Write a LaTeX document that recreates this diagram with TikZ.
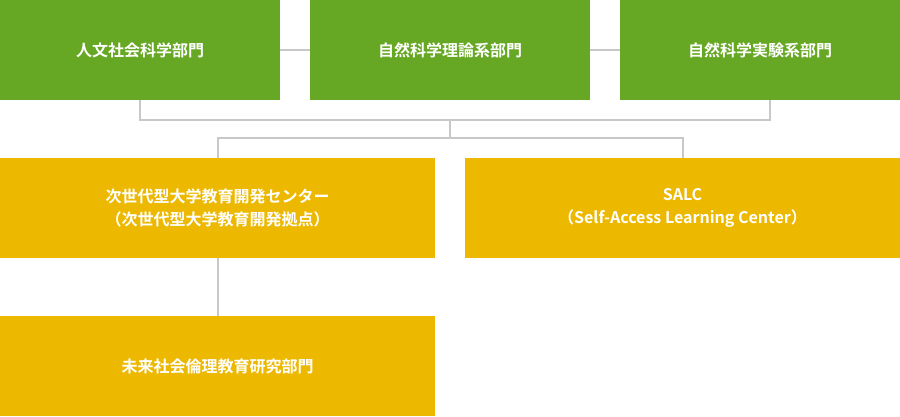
\documentclass[tikz,border=0pt]{standalone}
\usepackage{fontspec}
\setmainfont{Noto Sans CJK JP}[BoldFont={* Bold}]
\definecolor{gr}{HTML}{66A823}
\definecolor{ye}{HTML}{EDB900}
\definecolor{ln}{HTML}{C8C8C8}
\begin{document}
\begin{tikzpicture}[x=1pt,y=-1pt,
 box/.style={fill=#1,draw=none,text=white,font=\fontsize{16}{23}\selectfont\bfseries,align=center,inner sep=0},
 con/.style={draw=ln,line width=1.5pt}]
\useasboundingbox (0,0) rectangle (900,416);
\fill[gr] (0,0) rectangle (280,100); \node[box=gr] (a) at (140,50) {人文社会科学部門};
\fill[gr] (310,0) rectangle (590,100); \node[box=gr] (b) at (450,50) {自然科学理論系部門};
\fill[gr] (620,0) rectangle (900,100); \node[box=gr] (c) at (760,50) {自然科学実験系部門};
\fill[ye] (0,158) rectangle (435,258); \node[box=ye] (d) at (217.5,208) {次世代型大学教育開発センター\\（次世代型大学教育開発拠点）};
\fill[ye] (465,158) rectangle (900,258); \node[box=ye] (e) at (682.5,208) {SALC\\（Self-Access Learning Center）};
\fill[ye] (0,316) rectangle (435,416); \node[box=ye] (f) at (217.5,366) {未来社会倫理教育研究部門};
\coordinate (j) at (450,120);
\draw[con] (280,50) -- (310,50) (590,50) -- (620,50);
\draw[con] (140,100) -- (140,120) -- (770,120) -- (770,100);
\draw[con] (j) -- (450,138);
\draw[con] (218,158) -- (218,138) -- (683,138) -- (683,158);
\draw[con] (218,258) -- (218,316);
\end{tikzpicture}
\end{document}
